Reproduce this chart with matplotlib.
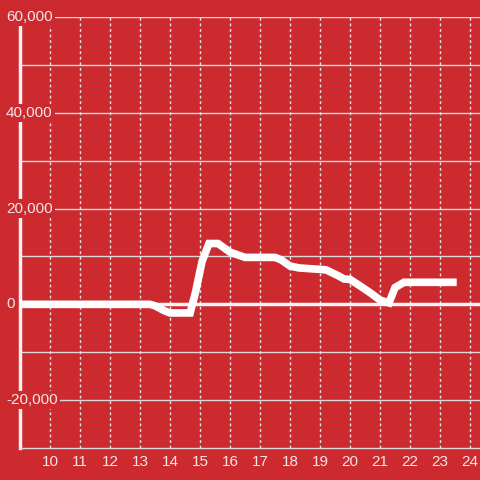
import matplotlib
matplotlib.use('Agg')
import matplotlib.pyplot as plt

# hours of day vs value
hours = [9.0, 13.33, 13.5, 13.8, 14.0, 14.67, 14.85, 15.07, 15.3, 15.6, 16.0, 16.5,
         17.5, 17.7, 18.0, 18.3, 19.0, 19.2, 19.6, 19.8, 20.0, 20.3, 20.7, 21.0,
         21.3, 21.5, 21.8, 23.43]
values = [0, 0, -300, -1300, -1800, -1800, 2500, 9000, 12700, 12700, 10900, 9800,
          9800, 9300, 8000, 7600, 7300, 7200, 6000, 5300, 5200, 4000, 2300, 900,
          300, 3500, 4600, 4600]

x_ticks = list(range(10, 25))
y_ticks = [-20000, 0, 20000, 40000, 60000]
y_grid = [-20000, -10000, 10000, 20000, 30000, 40000, 50000, 60000]

bg = '#cc2a2f'
txt = '#f4e6e6'
plt.rcParams['font.family'] = ['Liberation Sans', 'DejaVu Sans']

fig = plt.figure(figsize=(4.8, 4.8), dpi=100, facecolor=bg)
ax = fig.add_axes([20/480, 32/480, 460/480, 431/480], facecolor=bg)
ax.set_xlim(9.0, 24.333)
ax.set_ylim(-30000, 60000)

for g in y_grid:
    ax.axhline(g, color='#d9d9d9', lw=1, zorder=1)
for t in x_ticks:
    ax.axvline(t, color='#e6e6e6', lw=1, ls=(0, (2, 2)), zorder=1)
ax.axhline(0, color='#f5f5f5', lw=2.5, zorder=2)

ax.plot(hours, values, color='white', lw=5.5, solid_joinstyle='miter', zorder=3)

for s in ['top', 'right']:
    ax.spines[s].set_visible(False)
ax.spines['left'].set_color('#f0f0f0')
ax.spines['left'].set_linewidth(2.5)
ax.spines['left'].set_zorder(2.5)
ax.spines['bottom'].set_color('#d9d9d9')
ax.spines['bottom'].set_linewidth(1)

ax.set_xticks(x_ticks)
ax.set_xticklabels([str(t) for t in x_ticks], color=txt, fontsize=11)
ax.tick_params(axis='x', length=0, pad=5)
ax.set_yticks([])

for v in y_ticks:
    ax.text(-14/460, v, '{:,}'.format(v), transform=ax.get_yaxis_transform(),
            ha='left', va='center', color=txt, fontsize=11, clip_on=False, zorder=5,
            bbox=dict(facecolor=bg, edgecolor='none', pad=1.5))

fig.savefig('out.png', dpi=100, facecolor=bg)
